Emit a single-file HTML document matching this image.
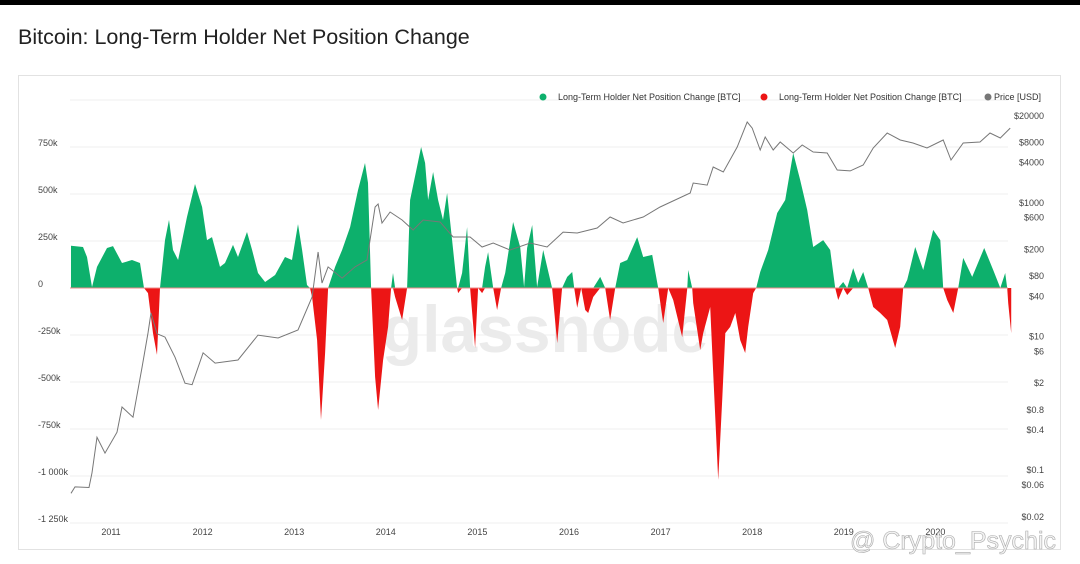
<!DOCTYPE html>
<html><head><meta charset="utf-8">
<style>
body{margin:0;width:1080px;height:564px;background:#fff;overflow:hidden;font-family:"Liberation Sans",sans-serif;position:relative}
#topbar{position:absolute;left:0;top:0;width:1080px;height:5px;background:#000}
#title{position:absolute;left:18px;top:25px;font-size:21.5px;color:#222}
#frame{position:absolute;left:18px;top:75px;width:1043px;height:475px;border:1px solid #e2e2e2;box-sizing:border-box}
svg{position:absolute;left:0;top:0}
</style></head>
<body>
<div id="topbar"></div>
<div id="title">Bitcoin: Long-Term Holder Net Position Change</div>
<div id="frame"></div>
<svg id="chart" width="1080" height="564"></svg>
<script>
const dates=[2010.563,2010.694,2010.738,2010.793,2010.847,2010.956,2011.022,2011.120,2011.229,2011.317,2011.360,2011.404,2011.459,2011.502,2011.535,2011.590,2011.633,2011.677,2011.732,2011.830,2011.917,2011.994,2012.048,2012.103,2012.190,2012.245,2012.332,2012.387,2012.485,2012.540,2012.605,2012.682,2012.791,2012.900,2012.976,2013.042,2013.086,2013.140,2013.173,2013.195,2013.250,2013.293,2013.337,2013.370,2013.446,2013.523,2013.610,2013.697,2013.773,2013.806,2013.839,2013.883,2013.916,2013.970,2014.025,2014.058,2014.079,2014.101,2014.178,2014.232,2014.265,2014.341,2014.385,2014.429,2014.462,2014.516,2014.571,2014.625,2014.669,2014.724,2014.778,2014.789,2014.833,2014.888,2014.920,2014.975,2015.008,2015.051,2015.084,2015.117,2015.172,2015.215,2015.259,2015.303,2015.390,2015.467,2015.510,2015.543,2015.598,2015.652,2015.718,2015.816,2015.871,2015.925,2015.980,2016.035,2016.057,2016.089,2016.133,2016.177,2016.210,2016.264,2016.341,2016.395,2016.449,2016.504,2016.559,2016.635,2016.744,2016.810,2016.908,2016.974,2017.028,2017.083,2017.138,2017.236,2017.291,2017.301,2017.345,2017.356,2017.432,2017.465,2017.541,2017.574,2017.629,2017.673,2017.706,2017.760,2017.815,2017.869,2017.924,2017.956,2018.011,2018.044,2018.087,2018.175,2018.273,2018.360,2018.448,2018.524,2018.600,2018.666,2018.775,2018.852,2018.906,2018.939,2018.993,2019.037,2019.103,2019.157,2019.212,2019.266,2019.321,2019.397,2019.474,2019.561,2019.616,2019.649,2019.692,2019.779,2019.867,2019.976,2020.053,2020.085,2020.129,2020.195,2020.249,2020.304,2020.402,2020.533,2020.631,2020.708,2020.762,2020.784,2020.795,2020.828];
const lthChange=[225,218,165,5,112,213,223,133,149,133,0,-27,-240,-356,0,255,362,202,149,378,553,431,255,271,112,133,229,165,298,202,80,32,69,165,149,340,202,16,0,-48,-277,-702,-346,0,112,202,324,521,665,559,0,-473,-649,-383,-207,0,80,-48,-170,0,468,644,750,665,468,617,468,362,505,255,0,-27,80,324,0,-319,0,-27,112,191,0,-117,0,80,351,218,5,213,335,5,202,0,-293,0,59,85,0,-106,0,-117,-133,-48,59,0,-170,0,133,149,271,165,176,0,-186,0,-64,-261,0,96,0,-80,-330,-240,-101,-452,-1021,-596,-240,-207,-133,-277,-346,-207,-27,0,85,202,399,468,718,574,415,218,255,202,0,-64,32,-37,106,27,85,0,-101,-133,-170,-319,-207,0,43,218,96,309,255,0,-64,-133,0,160,59,213,96,0,80,0,-80,-240];
const priceDates=[2010.563,2010.607,2010.760,2010.793,2010.847,2010.934,2011.066,2011.120,2011.240,2011.339,2011.404,2011.437,2011.502,2011.590,2011.699,2011.808,2011.885,2012.005,2012.136,2012.387,2012.605,2012.824,2013.042,2013.195,2013.261,2013.304,2013.370,2013.523,2013.664,2013.795,2013.883,2013.916,2013.959,2014.047,2014.178,2014.298,2014.407,2014.593,2014.735,2014.920,2015.051,2015.172,2015.357,2015.576,2015.761,2015.936,2016.089,2016.308,2016.449,2016.591,2016.810,2016.995,2017.323,2017.356,2017.509,2017.574,2017.684,2017.836,2017.945,2018.000,2018.087,2018.142,2018.229,2018.306,2018.448,2018.546,2018.666,2018.819,2018.928,2019.070,2019.212,2019.321,2019.474,2019.616,2019.755,2019.908,2020.085,2020.170,2020.304,2020.487,2020.596,2020.708,2020.817];
const priceUSD=[0.045,0.056,0.055,0.091,0.31,0.18,0.37,0.88,0.62,3.5,11.3,22.5,11,9.8,4.9,2.0,1.9,5.7,4.0,4.45,10.5,9.5,12.5,39,184,63,110,75,110,140,869,964,500,731,555,393,555,518,309,309,219,251,197,251,219,366,354,421,615,500,615,869,1406,1986,1850,3450,2900,6870,16250,13200,6190,9700,6190,8170,5580,7360,5780,5580,3110,3010,3690,6640,11130,8750,7880,6640,8750,4390,7880,8170,11130,9380,13200];
const leftTicks=[750,500,250,0,-250,-500,-750,-1000,-1250];
const leftTickLabels=["750k","500k","250k","0","-250k","-500k","-750k","-1 000k","-1 250k"];
const gridVals=[1000,750,500,250,0,-250,-500,-750,-1000,-1250];
const priceTicks=[20000,8000,4000,1000,600,200,80,40,10,6,2,0.8,0.4,0.1,0.06,0.02];
const priceTickLabels=["$20000","$8000","$4000","$1000","$600","$200","$80","$40","$10","$6","$2","$0.8","$0.4","$0.1","$0.06","$0.02"];
const yearTicks=[2011,2012,2013,2014,2015,2016,2017,2018,2019,2020];

const X=t=>111+(t-2011)*91.6;
const Y=v=>288-v/250*47;
const YP=p=>116+(Math.log10(20000)-Math.log10(p))*66.8;
const NS="http://www.w3.org/2000/svg";
const svg=document.getElementById('chart');
function mk(tag,attrs,parent){const e=document.createElementNS(NS,tag);for(const k in attrs)e.setAttribute(k,attrs[k]);(parent||svg).appendChild(e);return e;}

gridVals.forEach(v=>{
  const l=mk('line',{x1:70,x2:1008,y1:Y(v),y2:Y(v),stroke:'#efefef','stroke-width':1});
  
  
});
leftTicks.forEach((v,i)=>{
  const t=mk('text',{x:38,y:Y(v)-1,'font-size':9,fill:'#444'});
  t.textContent=leftTickLabels[i];
  
  
});
priceTicks.forEach((p,i)=>{
  const t=mk('text',{x:1044,y:YP(p)+3,'font-size':9,fill:'#444','text-anchor':'end'});
  t.textContent=priceTickLabels[i];
  
  
});
yearTicks.forEach(yr=>{
  const t=mk('text',{x:X(yr),y:535,'font-size':9,fill:'#444','text-anchor':'middle'});
  t.textContent=String(yr);
  
  
});
const wm=mk('text',{x:545,y:352,'font-size':66,fill:'#ebebeb','text-anchor':'middle','font-weight':'bold'});
wm.textContent='glassnode';



function area(sign,color,name){
  let d='M'+X(dates[0])+','+Y(0);
  dates.forEach((t,i)=>{const v=sign>0?Math.max(lthChange[i],0):Math.min(lthChange[i],0);d+='L'+X(t).toFixed(1)+','+Y(v).toFixed(1);});
  d+='L'+X(dates[dates.length-1])+','+Y(0)+'Z';
  const p=mk('path',{d:d,fill:color});
  
  
}
area(1,'#0db06c','positive-change-area');
area(-1,'#ec1515','negative-change-area');
const zl=mk('line',{x1:70,x2:1008,y1:Y(0),y2:Y(0),stroke:'#e88','stroke-width':1});



let pd='';
priceDates.forEach((t,i)=>{pd+=(i?'L':'M')+X(t).toFixed(1)+','+YP(priceUSD[i]).toFixed(1);});
const pl=mk('path',{d:pd,fill:'none',stroke:'#777','stroke-width':1});



const legend=[{x:543,c:'#0db06c',t:'Long-Term Holder Net Position Change [BTC]'},{x:764,c:'#ec1515',t:'Long-Term Holder Net Position Change [BTC]'},{x:988,c:'#777',t:'Price [USD]'}];
legend.forEach(L=>{
  const g=mk('g',{});
  
  
  mk('circle',{cx:L.x,cy:97,r:3.5,fill:L.c},g);
  const t=mk('text',{x:L.x+(L.t.length>20?15:6),y:100,'font-size':9,fill:'#333'},g);
  t.textContent=L.t;
});
const cw=mk('text',{x:850,y:549,'font-size':25,fill:'#f4f4f4',stroke:'#aaa','stroke-width':0.6});
cw.textContent='@ Crypto_Psychic';


</script>
</body></html>
